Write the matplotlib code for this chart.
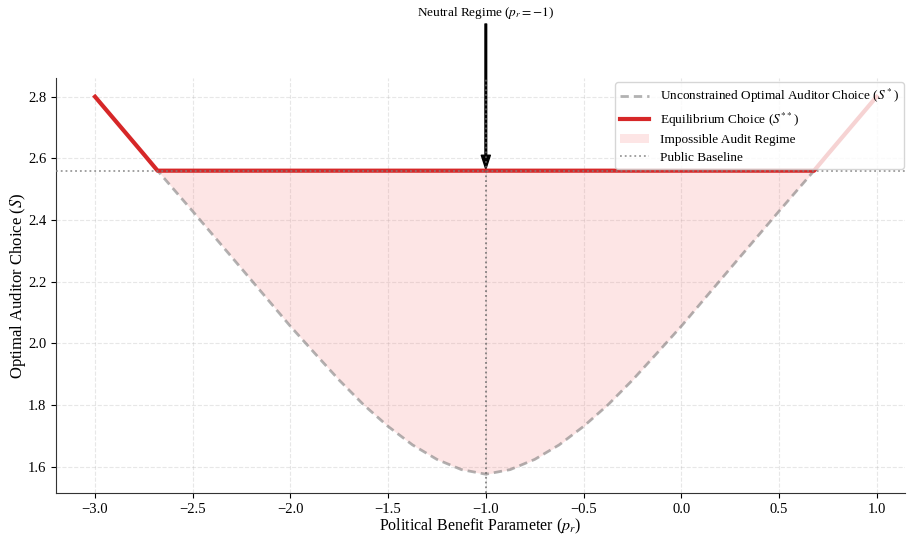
import numpy as np
import matplotlib
matplotlib.use("Agg")
import matplotlib.pyplot as plt

plt.rcParams['font.family'] = ['Liberation Serif', 'DejaVu Serif']
plt.rcParams['mathtext.fontset'] = 'stix'

# values
p_r = [-3.0, -2.75, -2.68, -2.5, -2.25, -2.0, -1.875, -1.75, -1.625, -1.5, -1.375, -1.25, -1.125, -1.0,
       -0.875, -0.75, -0.625, -0.5, -0.375, -0.25, -0.125, 0.0, 0.25, 0.5, 0.68, 0.75, 1.0]
s_star = [2.80, 2.613, 2.56, 2.428, 2.242, 2.055, 1.967, 1.88, 1.80, 1.73, 1.67, 1.623, 1.59, 1.575,
          1.59, 1.623, 1.67, 1.73, 1.80, 1.88, 1.967, 2.055, 2.242, 2.428, 2.56, 2.613, 2.80]
baseline = 2.56
neutral = -1.0

x = np.array(p_r)
s = np.array(s_star)
s_eq = np.maximum(s, baseline)

fig = plt.figure(figsize=(9.07, 5.37), dpi=100)
ax = fig.add_axes([0.0617, 0.0819, 0.936, 0.773])

ax.plot(x, s, color='gray', alpha=0.6, lw=2, ls='--', dashes=(3, 1.8),
        label='Unconstrained Optimal Auditor Choice ($S^*$)', zorder=3)
ax.plot(x, s_eq, color='#d62728', lw=3, label='Equilibrium Choice ($S^{**}$)', zorder=4)
ax.fill_between(x, s, baseline, where=s <= baseline, color='#f78a8a', alpha=0.22, lw=0,
                label='Impossible Audit Regime', zorder=2)
ax.axhline(baseline, color='gray', ls=':', lw=1.3, alpha=0.8, label='Public Baseline', zorder=5)
ax.axvline(neutral, color='#666666', ls=':', lw=1.3, alpha=0.8, zorder=5)

ax.annotate('Neutral Regime ($p_r = -1$)', xy=(neutral, 2.565), xytext=(neutral, 3.045),
            ha='center', va='bottom', fontsize=9.5, annotation_clip=False,
            arrowprops=dict(facecolor='black', edgecolor='black', width=1.2, headwidth=6.5,
                            headlength=10, shrink=0.0))

ax.set_xlim(-3.2, 1.145)
ax.set_ylim(1.514, 2.861)
ax.set_xticks(np.arange(-3.0, 1.01, 0.5))
ax.set_yticks(np.arange(1.6, 2.81, 0.2))
ax.tick_params(labelsize=10.5)
ax.grid(True, ls='--', alpha=0.3, lw=0.8)
ax.spines['top'].set_visible(False)
ax.spines['right'].set_visible(False)
ax.spines['left'].set_color('#333333')
ax.spines['bottom'].set_color('#333333')
ax.set_xlabel('Political Benefit Parameter ($p_r$)', fontsize=11.5, labelpad=1)
ax.set_ylabel('Optimal Auditor Choice ($S$)', fontsize=12, labelpad=0)

ax.legend(loc='upper right', bbox_to_anchor=(0.999, 0.99), fontsize=9.5, framealpha=0.8,
          borderaxespad=0.0, labelspacing=0.4, handlelength=2.2)

fig.savefig('out.png', dpi=100)
